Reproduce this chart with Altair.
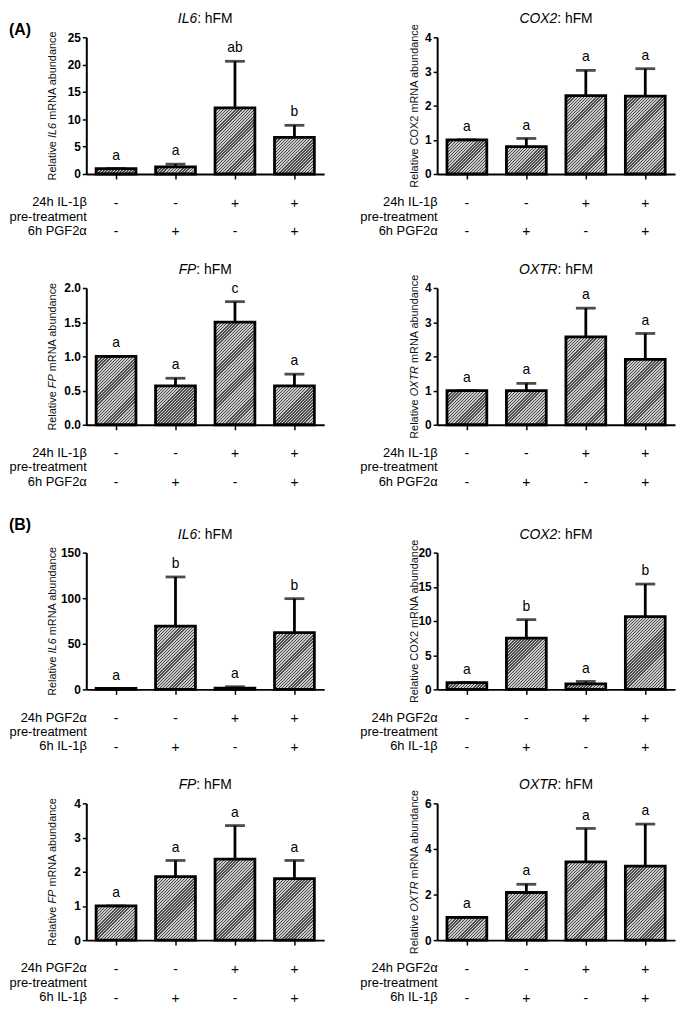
import altair as alt
import pandas as pd

FONT = "Liberation Sans"
HATCH_DARK = "#4c4c4c"
HATCH_LIGHT = "#cacaca"

groups = ["g1", "g2", "g3", "g4"]
pre_signs = ["-", "-", "+", "+"]
post_signs = ["-", "+", "-", "+"]
rows_a = ["24h IL-1β\npre-treatment", "6h PGF2α"]
rows_b = ["24h PGF2α\npre-treatment", "6h IL-1β"]

# ---- (A) ----
a_il6_mean = [1.0, 1.3, 12.1, 6.7]
a_il6_upper = [1.0, 1.8, 20.6, 8.9]
a_il6_letters = ["a", "a", "ab", "b"]
a_il6_ticks = [0, 5, 10, 15, 20, 25]

a_cox2_mean = [1.0, 0.8, 2.29, 2.28]
a_cox2_upper = [1.0, 1.04, 3.03, 3.08]
a_cox2_letters = ["a", "a", "a", "a"]
a_cox2_ticks = [0, 1, 2, 3, 4]

a_fp_mean = [1.0, 0.57, 1.5, 0.57]
a_fp_upper = [1.0, 0.68, 1.8, 0.74]
a_fp_letters = ["a", "a", "c", "a"]
a_fp_ticks = [0.0, 0.5, 1.0, 1.5, 2.0]

a_oxtr_mean = [1.0, 1.0, 2.57, 1.91]
a_oxtr_upper = [1.0, 1.21, 3.41, 2.67]
a_oxtr_letters = ["a", "a", "a", "a"]
a_oxtr_ticks = [0, 1, 2, 3, 4]

# ---- (B) ----
b_il6_mean = [1.0, 69.4, 1.5, 62.2]
b_il6_upper = [1.0, 123.3, 2.9, 99.5]
b_il6_letters = ["a", "b", "a", "b"]
b_il6_ticks = [0, 50, 100, 150]

b_cox2_mean = [1.0, 7.5, 0.8, 10.65]
b_cox2_upper = [1.0, 10.2, 1.16, 15.4]
b_cox2_letters = ["a", "b", "a", "b"]
b_cox2_ticks = [0, 5, 10, 15, 20]

b_fp_mean = [1.0, 1.86, 2.37, 1.8]
b_fp_upper = [1.0, 2.33, 3.35, 2.33]
b_fp_letters = ["a", "a", "a", "a"]
b_fp_ticks = [0, 1, 2, 3, 4]

b_oxtr_mean = [1.0, 2.09, 3.43, 3.25]
b_oxtr_upper = [1.0, 2.45, 4.9, 5.09]
b_oxtr_letters = ["a", "a", "a", "a"]
b_oxtr_ticks = [0, 2, 4, 6]

# ---- layout constants ----
W = 240
H = 138
TITLE_Y = -18
S_BT = 30      # plot bottom -> first table row (flush bounds)
T_H = 29       # distance between the two table rows
S_ROW = 24
S_SEC = 27
S_COL = 35
PAD_IN = 0.33
PAD_OUT = 0.165
HATCH_PERIOD = 2.2   # px, perpendicular stripe spacing
HATCH_DARK_FRAC = 0.45
LINE_W = 2.8

ARIAL = {' ': 278, ':': 278, '2': 556, '6': 556, 'A': 667, 'C': 722, 'F': 611,
         'I': 278, 'L': 556, 'M': 833, 'N': 722, 'O': 778, 'P': 667, 'R': 722,
         'T': 611, 'X': 667, 'a': 556, 'b': 556, 'c': 500, 'd': 556, 'e': 556,
         'h': 556, 'i': 222, 'l': 222, 'm': 833, 'n': 556, 't': 278, 'u': 556,
         'v': 500}


def tw(s, size):
    return sum(ARIAL.get(ch, 556) for ch in s) * size / 1000.0


def xscale():
    return alt.Scale(domain=groups, paddingInner=PAD_IN, paddingOuter=PAD_OUT)


def x_axis():
    return alt.Axis(title=None, labels=False, ticks=True, tickSize=5, tickWidth=1.5,
                    tickColor="black", domainColor="black", domainWidth=2, grid=False)


def y_axis(ticks, yfmt):
    return alt.Axis(title=None, values=ticks, format=yfmt, labelFont=FONT,
                    labelFontSize=12, labelFontWeight="bold", labelColor="black",
                    labelPadding=2, tickSize=4, tickWidth=1.5, tickColor="black",
                    domainColor="black", domainWidth=2, grid=False)


def hatch_fill(bar_h):
    """Diagonal (////) hatch as a hard-stop linear gradient sized to the bar's box."""
    step = W / (len(groups) - PAD_IN + 2 * PAD_OUT)
    bw = step * (1 - PAD_IN)
    h = max(bar_h, 0.5)
    r = h / bw
    s = (1 + r) / (1 + r * r)
    n = max(1, int(round((bw + h) / (HATCH_PERIOD * 1.4142))))
    stops = []
    for k in range(n):
        a = k / n
        b = (k + HATCH_DARK_FRAC) / n
        c = (k + 1) / n
        stops += [
            {"offset": a, "color": HATCH_DARK},
            {"offset": b, "color": HATCH_DARK},
            {"offset": b, "color": HATCH_LIGHT},
            {"offset": c, "color": HATCH_LIGHT},
        ]
    return {"gradient": "linear", "x1": 0, "y1": 0, "x2": s, "y2": s * r, "stops": stops}


def bar_panel(gene, ytitle_italic, means, uppers, letters, ticks, yfmt, ytitle_x,
              tag=None, tag_y=None):
    df = pd.DataFrame({"grp": groups, "mean": means, "upper": uppers, "letter": letters})
    ymax = ticks[-1]
    ys = alt.Scale(domain=[0, ymax], nice=False)
    base = alt.Chart(df)
    X = alt.X("grp:N", scale=xscale(), sort=groups, axis=x_axis())
    layers = []
    for i in range(len(groups)):
        bar_h = means[i] / ymax * H
        layers.append(
            alt.Chart(df.iloc[[i]]).mark_bar(
                fill=hatch_fill(bar_h), stroke="black", strokeWidth=LINE_W
            ).encode(x=X, y=alt.Y("mean:Q", scale=ys, axis=y_axis(ticks, yfmt)))
        )
    stem = base.mark_rule(color="black", strokeWidth=LINE_W).encode(
        x=X, y=alt.Y("mean:Q", scale=ys, axis=y_axis(ticks, yfmt)), y2="upper:Q")
    cap = base.mark_tick(color="black", size=20, thickness=LINE_W).encode(
        x=X, y=alt.Y("upper:Q", scale=ys, axis=y_axis(ticks, yfmt)))
    lett = base.mark_text(font=FONT, fontSize=14, baseline="alphabetic", dy=-9,
                          color="black").encode(
        x=X, y=alt.Y("upper:Q", scale=ys, axis=y_axis(ticks, yfmt)), text="letter:N")
    # title: italic gene + ": hFM"
    rest = ": hFM"
    total = tw(gene, 14) + tw(rest, 14)
    joint = W / 2 - total / 2 + tw(gene, 14)
    tdf = alt.Chart(pd.DataFrame({"gene": [gene], "rest": [rest]}))
    t1 = tdf.mark_text(font=FONT, fontSize=14, fontStyle="italic", align="right",
                       baseline="middle", color="black").encode(
        x=alt.value(joint), y=alt.value(TITLE_Y), text="gene:N")
    t2 = tdf.mark_text(font=FONT, fontSize=14, align="left", baseline="middle",
                       color="black").encode(
        x=alt.value(joint), y=alt.value(TITLE_Y), text="rest:N")
    # y-axis title in pieces (gene name possibly italic)
    parts = ["Relative ", gene + " ", "mRNA abundance"]
    widths = [tw(p, 11) for p in parts]
    start = H / 2 + sum(widths) / 2
    pos = [start, start - widths[0], start - widths[0] - widths[1]]
    layers += [stem, cap, lett, t1, t2]
    for k in range(3):
        piece = alt.Chart(pd.DataFrame({"p": [parts[k].strip()]})).mark_text(
            font=FONT, fontSize=11, angle=270, align="left", baseline="middle",
            color="#111111", fontStyle=("italic" if (k == 1 and ytitle_italic) else "normal"),
        ).encode(x=alt.value(ytitle_x), y=alt.value(pos[k]), text="p:N")
        layers.append(piece)
    if tag is not None:
        tagc = alt.Chart(pd.DataFrame({"t": [tag]})).mark_text(
            font=FONT, fontSize=16, fontWeight="bold", align="left", baseline="middle",
            color="black").encode(x=alt.value(-78), y=alt.value(tag_y), text="t:N")
        layers.append(tagc)
    return alt.layer(*layers).properties(width=W, height=H)


def table_panel(row_labels):
    tdf = pd.DataFrame({
        "grp": groups * 2,
        "row": [row_labels[0]] * 4 + [row_labels[1]] * 4,
        "sign": pre_signs + post_signs,
    })
    return alt.Chart(tdf).mark_text(font=FONT, fontSize=14, color="black",
                                    baseline="middle").encode(
        x=alt.X("grp:N", scale=xscale(), sort=groups, axis=None),
        y=alt.Y("row:N", sort=row_labels, scale=alt.Scale(type="point", padding=0),
                axis=alt.Axis(title=None, domain=False, ticks=False, tickSize=0,
                              labelFont=FONT, labelFontSize=13, labelColor="black",
                              labelPadding=0, labelAlign="right", labelBaseline="top",
                              labelOffset=-8, labelLineHeight=14.5, labelLimit=0,
                              labelExpr="split(datum.label, '\\n')")),
        text="sign:N",
    ).properties(width=W, height=T_H)


def panel(gene, ytitle_italic, means, uppers, letters, ticks, yfmt, ytitle_x, rows,
          tag=None, tag_y=None):
    return alt.vconcat(
        bar_panel(gene, ytitle_italic, means, uppers, letters, ticks, yfmt, ytitle_x, tag, tag_y),
        table_panel(rows),
        spacing=S_BT,
        bounds="flush",
    )


LX = -34
RX = -22

row1 = alt.hconcat(
    panel("IL6", True, a_il6_mean, a_il6_upper, a_il6_letters, a_il6_ticks, "d", LX, rows_a,
          tag="(A)", tag_y=-7),
    panel("COX2", False, a_cox2_mean, a_cox2_upper, a_cox2_letters, a_cox2_ticks, "d", RX, rows_a),
    spacing=S_COL,
)
row2 = alt.hconcat(
    panel("FP", True, a_fp_mean, a_fp_upper, a_fp_letters, a_fp_ticks, ".1f", LX, rows_a),
    panel("OXTR", True, a_oxtr_mean, a_oxtr_upper, a_oxtr_letters, a_oxtr_ticks, "d", RX, rows_a),
    spacing=S_COL,
)
row3 = alt.hconcat(
    panel("IL6", True, b_il6_mean, b_il6_upper, b_il6_letters, b_il6_ticks, "d", LX, rows_b,
          tag="(B)", tag_y=-28),
    panel("COX2", False, b_cox2_mean, b_cox2_upper, b_cox2_letters, b_cox2_ticks, "d", RX, rows_b),
    spacing=S_COL,
)
row4 = alt.hconcat(
    panel("FP", True, b_fp_mean, b_fp_upper, b_fp_letters, b_fp_ticks, "d", LX, rows_b),
    panel("OXTR", True, b_oxtr_mean, b_oxtr_upper, b_oxtr_letters, b_oxtr_ticks, "d", RX, rows_b),
    spacing=S_COL,
)

sec_a = alt.vconcat(row1, row2, spacing=S_ROW)
sec_b = alt.vconcat(row3, row4, spacing=S_ROW)

chart = alt.vconcat(sec_a, sec_b, spacing=S_SEC).configure_view(stroke=None).properties(
    padding={"left": 0, "top": 0, "right": 2, "bottom": 0}, background="white")

chart.save("out.html", embed_options={"renderer": "svg", "actions": False})
